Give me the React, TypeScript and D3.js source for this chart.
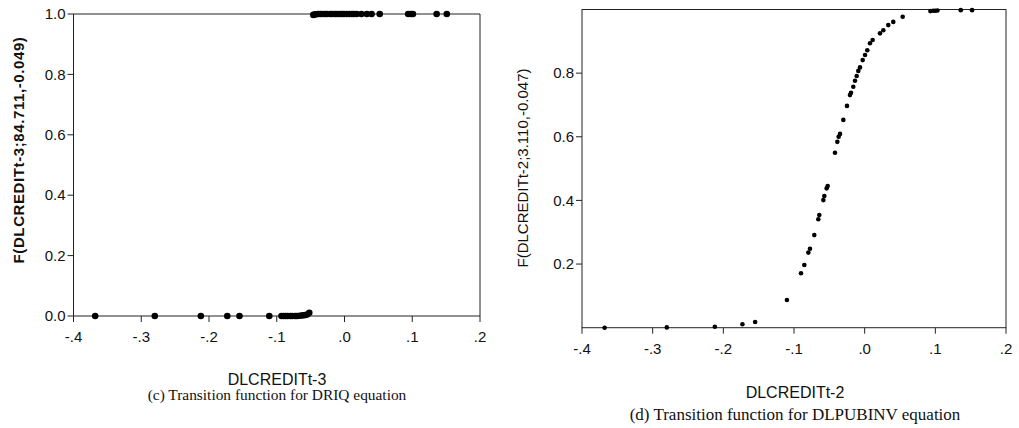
import React from "react";
import * as d3 from "d3";

// ---- Data ----
// Panel (c): DLCREDITt-3 vs F(DLCREDITt-3;84.711,-0.049)
const leftLowX = [-0.368, -0.280, -0.212, -0.173, -0.155, -0.111, -0.093, -0.090, -0.087, -0.084, -0.080, -0.077, -0.073, -0.070, -0.066, -0.062, -0.058, -0.055, -0.052];
const leftLowF = [0, 0, 0, 0, 0, 0, 0, 0, 0, 0, 0, 0, 0, 0, 0.001, 0.002, 0.003, 0.005, 0.011];
const leftHighX = [-0.046, -0.044, -0.042, -0.039, -0.036, -0.033, -0.029, -0.026, -0.021, -0.018, -0.014, -0.011, -0.007, -0.004, -0.001, 0.003, 0.007, 0.011, 0.014, 0.018, 0.025, 0.033, 0.040, 0.052, 0.094, 0.098, 0.101, 0.136, 0.151];
const leftHighF = [0.997, 0.998, 0.999, 1, 1, 1, 1, 1, 1, 1, 1, 1, 1, 1, 1, 1, 1, 1, 1, 1, 1, 1, 1, 1, 1, 1, 1, 1, 1];

// Panel (d): DLCREDITt-2 vs F(DLCREDITt-2;3.110,-0.047)
const rightX = [-0.368, -0.280, -0.212, -0.173, -0.155, -0.110, -0.0901, -0.0854, -0.0797, -0.0774, -0.0713, -0.0656, -0.0642, -0.0585, -0.0571, -0.0538, -0.0524, -0.0420, -0.0387, -0.0368, -0.0349, -0.0302, -0.0250, -0.0208, -0.0193, -0.0161, -0.0137, -0.0113, -0.0090, -0.0066, -0.0028, 0.0005, 0.0037, 0.0075, 0.0113, 0.0217, 0.0264, 0.0334, 0.0405, 0.0538, 0.093, 0.097, 0.100, 0.103, 0.136, 0.152];
const rightF = [0.000, 0.001, 0.003, 0.011, 0.018, 0.087, 0.171, 0.197, 0.236, 0.248, 0.291, 0.341, 0.354, 0.401, 0.414, 0.438, 0.445, 0.550, 0.584, 0.600, 0.609, 0.653, 0.697, 0.731, 0.738, 0.757, 0.776, 0.791, 0.807, 0.818, 0.841, 0.857, 0.872, 0.894, 0.904, 0.925, 0.935, 0.951, 0.961, 0.977, 0.995, 0.996, 0.996, 0.997, 0.998, 0.998];

const xTickValues = [-0.4, -0.3, -0.2, -0.1, 0.0, 0.1, 0.2];
const leftYTicks = [0.0, 0.2, 0.4, 0.6, 0.8, 1.0];
const rightYTicks = [0.2, 0.4, 0.6, 0.8];

const leftYTitle = "F(DLCREDITt-3;84.711,-0.049)";
const rightYTitle = "F(DLCREDITt-2;3.110,-0.047)";
const leftXTitle = "DLCREDITt-3";
const rightXTitle = "DLCREDITt-2";
const leftCaption = "(c) Transition function for DRIQ equation";
const rightCaption = "(d) Transition function for DLPUBINV equation";

const fmtX = (v: number) => {
  const s = d3.format(".1f")(Math.abs(v) < 1e-9 ? 0 : v).replace("\u2212", "-");
  return s.replace(/^(-?)0\./, "$1.");
};
const fmtY = (v: number) => d3.format(".1f")(v).replace("\u2212", "-");

const SANS = "'Liberation Sans', Arial, Helvetica, sans-serif";
const SERIF = "'Liberation Serif', 'Times New Roman', serif";

export default function App() {
  // Left panel scales
  const xL = d3.scaleLinear().domain([-0.4, 0.2]).range([73.5, 480]);
  const yL = d3.scaleLinear().domain([0, 1]).range([316, 14]);
  // Right panel scales
  const xR = d3.scaleLinear().domain([-0.4, 0.2]).range([582, 1006]);
  const yR = d3.scaleLinear().domain([0, 1]).range([327.7, 9.5]);

  const axisColor = "#222";

  return (
    <svg width={1019} height={428} style={{ position: "absolute", left: 0, top: 0, background: "#fff" }}>
      <rect x={0} y={0} width={1019} height={428} fill="#fff" />
      {/* ---------- Left panel ---------- */}
      <g>
        <path
          d={`M${xL(-0.4)},${yL(1)}H${xL(0.2)}V${yL(0)}H${xL(-0.4)}Z`}
          fill="none"
          stroke={axisColor}
          strokeWidth={1}
        />
        {leftYTicks.map((t) => (
          <g key={"ly" + t}>
            <line x1={xL(-0.4) - 6} x2={xL(-0.4)} y1={yL(t)} y2={yL(t)} stroke={axisColor} />
            <text x={xL(-0.4) - 8} y={yL(t)} dy="0.35em" textAnchor="end" fontFamily={SANS} fontSize={15} fill="#111">
              {fmtY(t)}
            </text>
          </g>
        ))}
        {xTickValues.map((t) => (
          <g key={"lx" + t}>
            <line x1={xL(t)} x2={xL(t)} y1={yL(0)} y2={yL(0) + 6} stroke={axisColor} />
            <text x={xL(t)} y={yL(0) + 21} dy="0.35em" textAnchor="middle" fontFamily={SANS} fontSize={15} fill="#111">
              {fmtX(t)}
            </text>
          </g>
        ))}
        {leftLowX.map((x, i) => (
          <circle key={"ll" + i} cx={xL(x)} cy={yL(leftLowF[i])} r={3.3} fill="#000" />
        ))}
        {leftHighX.map((x, i) => (
          <circle key={"lh" + i} cx={xL(x)} cy={yL(leftHighF[i])} r={3.3} fill="#000" />
        ))}
        <text
          transform={`translate(19,${150}) rotate(-90)`}
          textAnchor="middle"
          dy="0.35em"
          fontFamily={SANS}
          fontSize={15}
          fontWeight="bold"
          letterSpacing={0.6}
          fill="#111"
        >
          {leftYTitle}
        </text>
        <text x={277} y={379} dy="0.35em" textAnchor="middle" fontFamily={SANS} fontSize={16} fill="#111">
          {leftXTitle}
        </text>
        <text x={277} y={395} dy="0.35em" textAnchor="middle" fontFamily={SERIF} fontSize={15.4} fill="#111">
          {leftCaption}
        </text>
      </g>

      {/* ---------- Right panel ---------- */}
      <g>
        <rect
          x={xR(-0.4)}
          y={yR(1)}
          width={xR(0.2) - xR(-0.4)}
          height={yR(0) - yR(1)}
          fill="none"
          stroke={axisColor}
          strokeWidth={1}
        />
        {rightYTicks.map((t) => (
          <g key={"ry" + t}>
            <line x1={xR(-0.4) - 6} x2={xR(-0.4)} y1={yR(t)} y2={yR(t)} stroke={axisColor} />
            <text x={xR(-0.4) - 8} y={yR(t)} dy="0.35em" textAnchor="end" fontFamily={SANS} fontSize={15} fill="#111">
              {fmtY(t)}
            </text>
          </g>
        ))}
        {xTickValues.map((t) => (
          <g key={"rx" + t}>
            <line x1={xR(t)} x2={xR(t)} y1={yR(0)} y2={yR(0) + 6} stroke={axisColor} />
            <text x={xR(t)} y={yR(0) + 21} dy="0.35em" textAnchor="middle" fontFamily={SANS} fontSize={15} fill="#111">
              {fmtX(t)}
            </text>
          </g>
        ))}
        {rightX.map((x, i) => (
          <circle key={"r" + i} cx={xR(x)} cy={yR(rightF[i])} r={2.3} fill="#000" />
        ))}
        <text
          transform={`translate(523,${168}) rotate(-90)`}
          textAnchor="middle"
          dy="0.35em"
          fontFamily={SANS}
          fontSize={15}
          fill="#111"
        >
          {rightYTitle}
        </text>
        <text x={795} y={392} dy="0.35em" textAnchor="middle" fontFamily={SANS} fontSize={16} fill="#111">
          {rightXTitle}
        </text>
        <text x={795} y={414} dy="0.35em" textAnchor="middle" fontFamily={SERIF} fontSize={17} fill="#111">
          {rightCaption}
        </text>
      </g>
    </svg>
  );
}
